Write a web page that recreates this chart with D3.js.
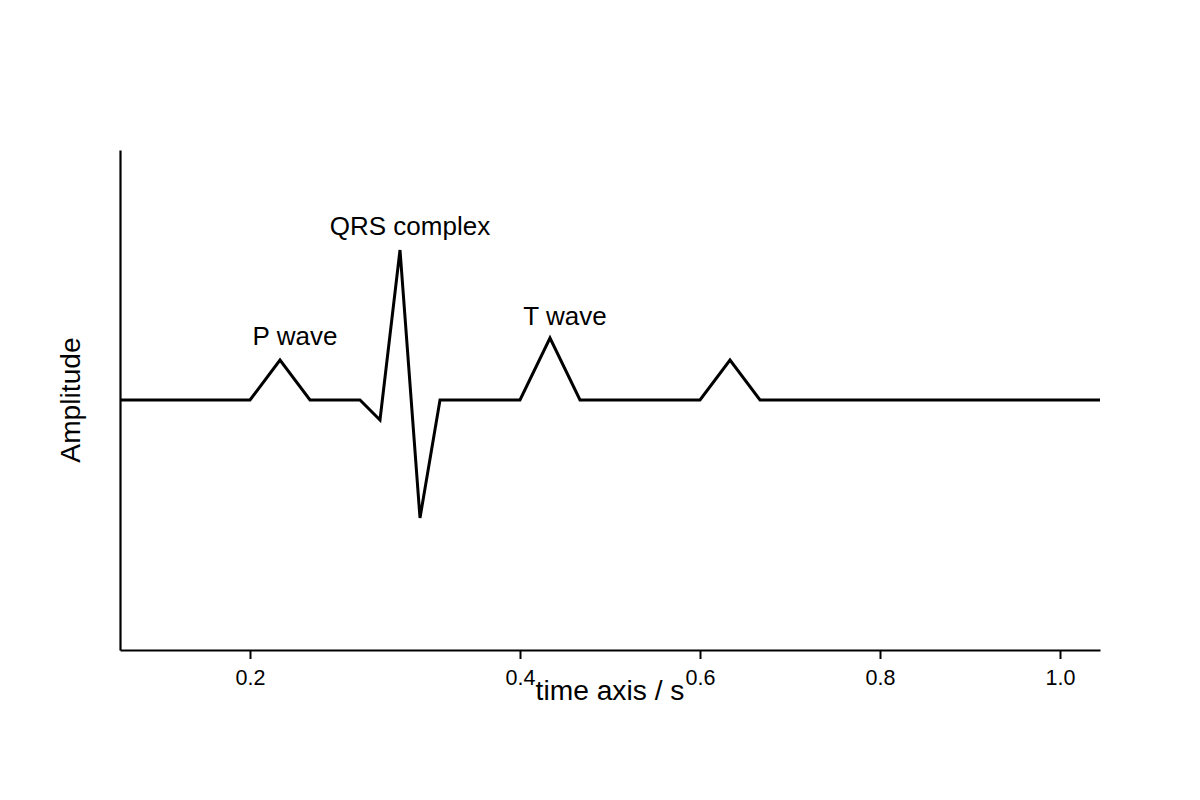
<!DOCTYPE html>
<html lang="en">
<head>
    <meta charset="UTF-8">
    <title>ECG waveform</title>
    <script src="https://d3js.org/d3.v7.min.js"></script>
    <style>
        body { margin: 0; background: #fff; }
        text { font-family: "Liberation Sans", Arial, sans-serif; fill: #000; }
    </style>
</head>
<body>
<script>
    // sample index (one step per 10 px of the time axis) and amplitude of the trace
    const sampleIdx = [0, 13, 16, 19, 24, 26, 28, 30, 32, 40, 43, 46, 58, 61, 64, 98];
    const amplitude = [0, 0, 0.2, 0, 0, -0.1, 0.75, -0.59, 0, 0, 0.31, 0, 0, 0.2, 0, 0];

    // tick positions (sample index) and their labels in seconds
    const tickIdx = [13, 40, 58, 76, 94];
    const tickLabels = ["0.2", "0.4", "0.6", "0.8", "1.0"];

    // wave annotations
    const waveNames = ["P wave", "QRS complex", "T wave"];
    const waveIdx = [17.5, 29, 44.5];
    const waveAmp = [0.275, 0.825, 0.375];

    const WIDTH = 1200, HEIGHT = 800;
    const margin = {left: 120, right: 100, top: 150, bottom: 150};

    const x = d3.scaleLinear().domain([0, 98]).range([margin.left, WIDTH - margin.right]);
    const y = d3.scaleLinear().domain([-1.25, 1.25]).range([HEIGHT - margin.bottom, margin.top]);

    const svg = d3.select("body").append("svg")
        .attr("width", WIDTH).attr("height", HEIGHT);

    // x axis
    const xAxis = svg.append("g")
        .attr("transform", `translate(0,${HEIGHT - margin.bottom})`)
        .call(d3.axisBottom(x)
            .tickValues(tickIdx)
            .tickFormat((d, i) => tickLabels[i])
            .tickSize(9)
            .tickSizeOuter(0));
    xAxis.select(".domain").attr("stroke", "#000").attr("stroke-width", 2.2);
    xAxis.selectAll(".tick line").attr("stroke", "#000").attr("stroke-width", 2);
    xAxis.selectAll(".tick text")
        .attr("y", 35).attr("dy", null)
        .style("font-size", "21.5px")
        .style("font-family", '"Liberation Sans", Arial, sans-serif');

    // y axis, no ticks
    const yAxis = svg.append("g")
        .attr("transform", `translate(${margin.left},0)`)
        .call(d3.axisLeft(y).tickValues([]).tickSizeOuter(0));
    yAxis.select(".domain").attr("stroke", "#000").attr("stroke-width", 2.2);

    // trace
    const line = d3.line()
        .x((d, i) => x(sampleIdx[i]))
        .y(d => y(d));
    svg.append("path")
        .datum(amplitude)
        .attr("d", line)
        .attr("fill", "none")
        .attr("stroke", "#000")
        .attr("stroke-width", 3)
        .attr("stroke-linejoin", "miter");

    // annotations
    waveNames.forEach((name, i) => {
        svg.append("text")
            .attr("x", x(waveIdx[i]))
            .attr("y", y(waveAmp[i]))
            .attr("text-anchor", "middle")
            .style("font-size", "26px")
            .text(name);
    });

    // axis labels
    svg.append("text")
        .attr("x", 610).attr("y", 700)
        .attr("text-anchor", "middle")
        .style("font-size", "28.2px")
        .text("time axis / s");

    svg.append("text")
        .attr("transform", "translate(80,400) rotate(-90)")
        .attr("text-anchor", "middle")
        .style("font-size", "28.2px")
        .text("Amplitude");
</script>
</body>
</html>
